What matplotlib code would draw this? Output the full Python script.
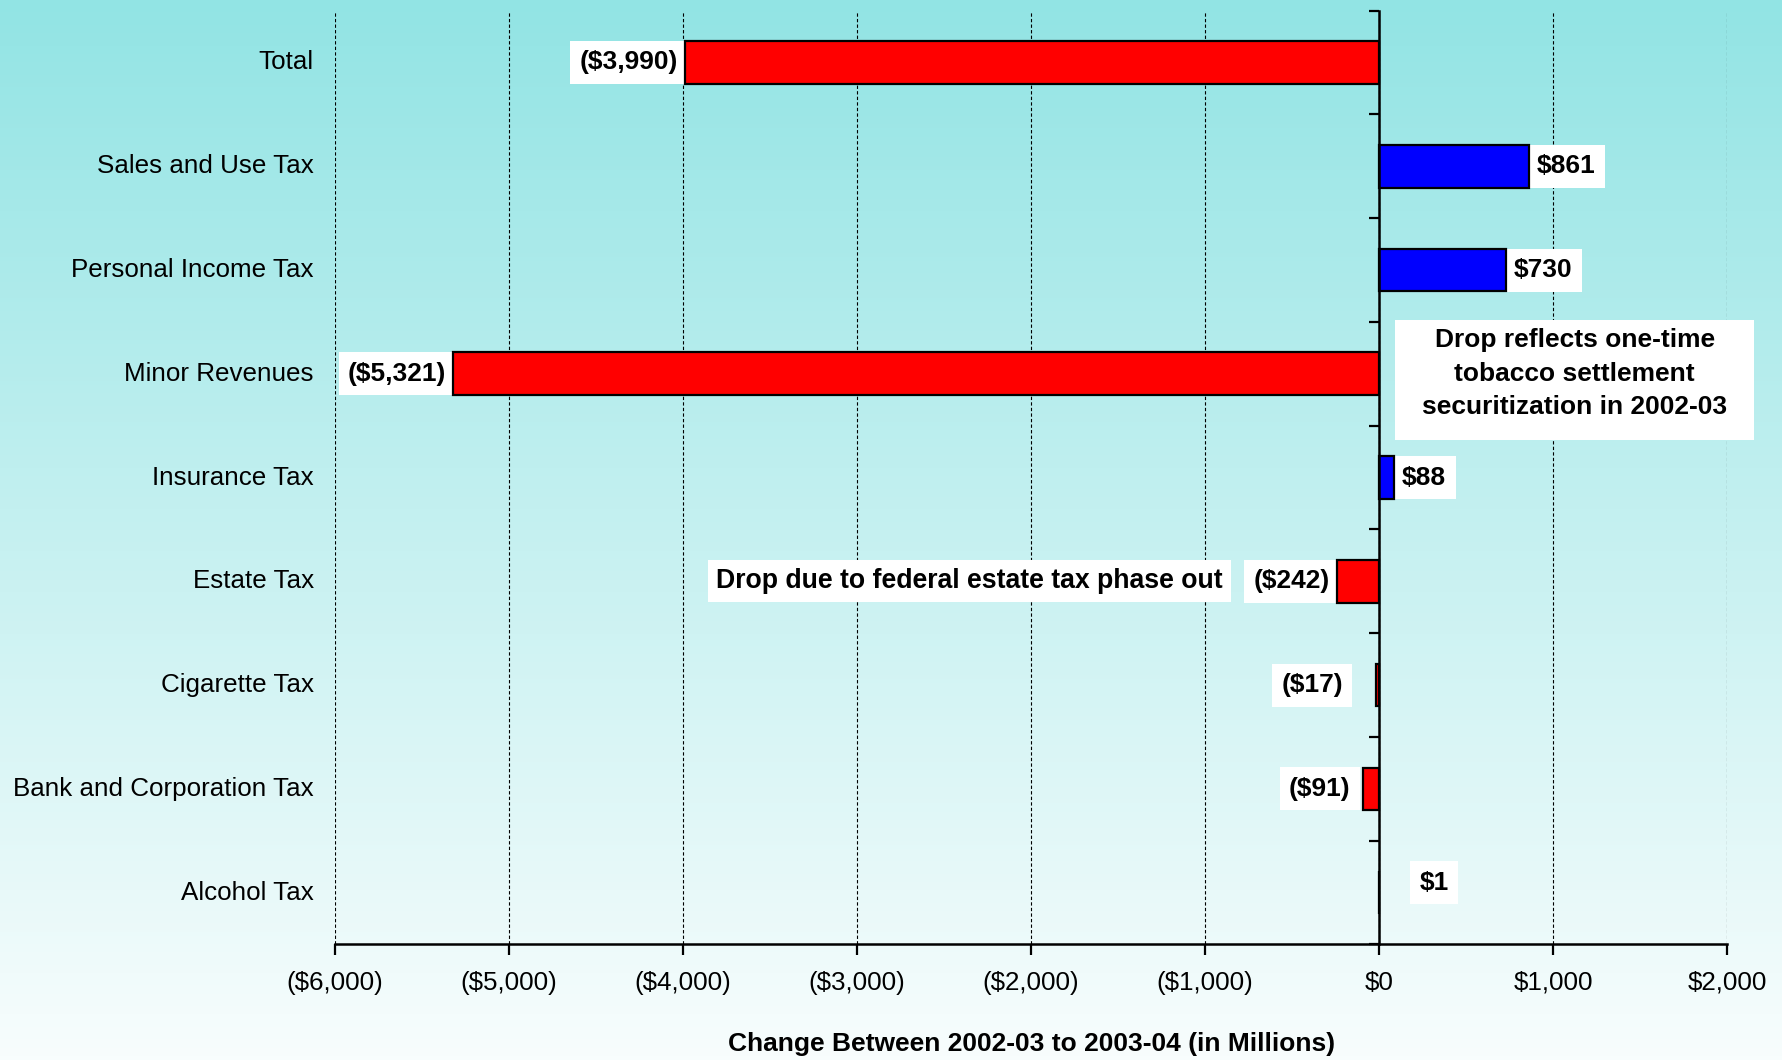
import numpy as np
import matplotlib.pyplot as plt
from matplotlib.ticker import FuncFormatter, FixedLocator
from matplotlib.patches import Rectangle

plt.rcParams['font.family'] = ['Liberation Sans', 'DejaVu Sans']

# datos (de arriba hacia abajo)
categorias = ['Total', 'Sales and Use Tax', 'Personal Income Tax', 'Minor Revenues',
              'Insurance Tax', 'Estate Tax', 'Cigarette Tax', 'Bank and Corporation Tax',
              'Alcohol Tax']
cambios = [-3990, 861, 730, -5321, 88, -242, -17, -91, 1]
etiquetas = ['($3,990)', '$861', '$730', '($5,321)', '$88', '($242)', '($17)', '($91)', '$1']
x_ticks = [-6000, -5000, -4000, -3000, -2000, -1000, 0, 1000, 2000]

nota_estate = 'Drop due to federal estate tax phase out'
nota_minor = 'Drop reflects one-time\ntobacco settlement\nsecuritization in 2002-03'

fig = plt.figure(figsize=(17.83, 10.6), dpi=100)

# fondo degradado
bg = fig.add_axes([0, 0, 1, 1], zorder=-1)
arriba = np.array([146, 228, 228]) / 255
abajo = np.array([248, 253, 253]) / 255
t = np.linspace(0, 1, 256)[:, None]
grad = arriba * (1 - t) + abajo * t
bg.imshow(grad[:, None, :], aspect='auto', extent=[0, 1, 0, 1])
bg.axis('off')

ax = fig.add_axes([0.188, 0.109, 0.7806, 0.881])
ax.patch.set_alpha(0)

n = len(categorias)
ypos = np.arange(n)[::-1]
colores = ['#FF0000' if v < 0 else '#0000FF' for v in cambios]
ax.barh(ypos, cambios, height=0.41, color=colores, edgecolor='black', linewidth=1.6, zorder=6)

ax.set_xlim(-6000, 2000)
ax.set_ylim(-0.5, n - 0.5)

# ejes
ax.spines['top'].set_visible(False)
ax.spines['right'].set_visible(False)
ax.spines['left'].set_position(('data', 0))
ax.spines['left'].set_linewidth(1.8)
ax.spines['left'].set_zorder(7)
ax.spines['bottom'].set_linewidth(1.8)

ax.xaxis.set_major_locator(FixedLocator(x_ticks))
ax.xaxis.set_major_formatter(FuncFormatter(
    lambda v, p: '(${:,.0f})'.format(-v) if v < 0 else '${:,.0f}'.format(v)))
ax.tick_params(axis='x', direction='out', length=8, width=1.6, labelsize=18.7, pad=11)

ax.yaxis.set_major_locator(FixedLocator(np.arange(-0.5, n, 1.0)))
ax.tick_params(axis='y', direction='out', length=7, width=1.6, labelleft=False)

ax.grid(axis='x', color='black', linestyle=(0, (3, 2)), linewidth=0.8, zorder=0)
ax.set_axisbelow(True)

# nombres de categorias
for y, nombre in zip(ypos, categorias):
    ax.text(-0.0155, y, nombre, transform=ax.get_yaxis_transform(),
            ha='right', va='center', fontsize=18.7)

# etiquetas de valor
ajuste = {'($17)': (-24, 0), '($91)': (-9, 0), '$1': (29, 7)}
for y, v, lab in zip(ypos, cambios, etiquetas):
    dx, dy = ajuste.get(lab, (-5, 0) if v < 0 else (5.5, 0))
    ax.annotate(lab, (v, y), xytext=(dx, dy), textcoords='offset points',
                ha='right' if v < 0 else 'left', va='center', fontsize=19,
                fontweight='bold', zorder=5,
                bbox=dict(boxstyle='square,pad=0.36', facecolor='white', edgecolor='none'))

ax.text(-2353, 3, nota_estate, ha='center', va='center', fontsize=19.2, fontweight='bold',
        zorder=5, bbox=dict(boxstyle='square,pad=0.3', facecolor='white', edgecolor='none'))

# recuadro de la nota de Minor Revenues
ax.add_patch(Rectangle((92, 4.364), 2065, 1.151, facecolor='white', edgecolor='none',
                       zorder=5, clip_on=False))
ax.text(1124, 5.0, nota_minor, ha='center', va='center', fontsize=19, fontweight='bold',
        linespacing=1.5, zorder=5, clip_on=False)

ax.set_xlabel('Change Between 2002-03 to 2003-04 (in Millions)', fontsize=19,
              fontweight='bold', labelpad=27)

fig.savefig('out.png', dpi=100)
